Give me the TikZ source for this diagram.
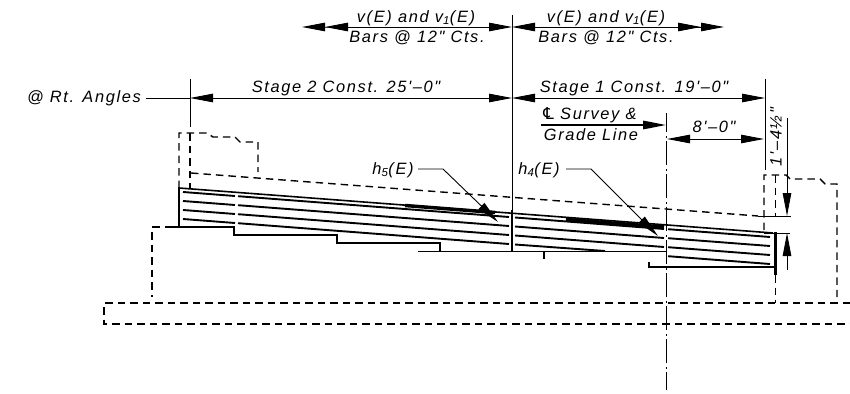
\documentclass[tikz,border=0pt]{standalone}
\usepackage{fontspec}
\newfontfamily\cadfont[LetterSpace=10]{Liberation Sans}
\newfontfamily\clfont{DejaVu Sans}
\usetikzlibrary{arrows.meta}
\tikzset{
  >={Triangle[length=23pt,width=8.5pt]},
  lab/.style={inner sep=0pt,font=\cadfont\itshape\fontsize{16.4}{19}\selectfont},
  dimline/.style={line width=0.9pt},
  barline/.style={line width=1.9pt},
  edgeline/.style={line width=1.6pt},
  hidline/.style={line width=1.4pt,dash pattern=on 7.5pt off 5pt},
  centreline/.style={line width=0.8pt,dash pattern=on 24pt off 4pt on 1.5pt off 3.5pt,dash phase=5pt}
}
\begin{document}
\begin{tikzpicture}[x=1pt,y=-1pt]
\useasboundingbox (0,0) rectangle (850,393);

\node[lab] (angles) at (84,98) {@ Rt. Angles};
\node[lab] (stagetwo) at (346,88) {Stage 2 Const. 25'–0"};
\node[lab] (stageone) at (634,88) {Stage 1 Const. 19'–0"};
\node[lab] (vleft) at (416,18) {v(E) and v\textsubscript{1}(E)};
\node[lab] (barsleft) at (417,38) {Bars @ 12" Cts.};
\node[lab] (vright) at (606,18) {v(E) and v\textsubscript{1}(E)};
\node[lab] (barsright) at (606,38) {Bars @ 12" Cts.};
\node[lab] (survey) at (590,115) {{\clfont\upshape\char"2104}\ Survey \&};
\node[lab] (grade) at (591,135) {Grade Line};
\node[lab] (eight) at (714,127) {8'–0"};
\node[lab,rotate=90] (height) at (776,137) {1'–4\textonehalf"};
\node[lab] (hfive) at (393,170) {h\textsubscript{5}(E)};
\node[lab] (hfour) at (539,170) {h\textsubscript{4}(E)};

\coordinate (top) at (512,15);
\coordinate (mid) at (512,210);
\coordinate (base) at (512,252);
\coordinate (topl) at (302,27);
\coordinate (topm) at (512,27);
\coordinate (topr) at (724,27);
\coordinate (stl) at (190,98);
\coordinate (stm) at (512,98);
\coordinate (str) at (765,98);
\coordinate (cll) at (541,125);
\coordinate (clr) at (666,125);
\coordinate (cltop) at (666.5,113);
\coordinate (clbot) at (666.5,390);
\coordinate (eil) at (667,139);
\coordinate (eir) at (764,139);

\draw[dimline] (top) -- (mid);
\draw[line width=2.2pt] (mid) -- (base);
\draw[dimline,<<-] (topl) -- (347,27) -- (489,27);
\draw[dimline,->] (347,27) -- (topm);
\draw[dimline,<-] (topm) -- (536,27);
\draw[dimline,->>] (536,27) -- (topr);
\draw[dimline] (146,98) -- (stl);
\draw[dimline,<-] (stl) -- (256,98);
\draw[dimline,->] (256,98) -- (stm);
\draw[dimline,<->] (stm) -- (str);
\draw[dimline] (190,79) -- (190,127);
\draw[dimline] (765,79) -- (765,170);
\draw[edgeline,->] (cll) -- (clr);
\draw[centreline] (cltop) -- (clbot);
\draw[dimline,<->] (eil) -- (eir);

\draw[dimline] (787,118) -- (787,150);
\draw[dimline,->] (787,150) -- (787,216);
\draw[dimline,->] (787,270) -- (787,233);
\draw[dimline] (758,216) -- (791,216);
\draw[dimline] (764,233) -- (790,233);

\draw[dimline,->] (418,169) -- (443,169) -- (498,222);
\draw[dimline,->] (566,169) -- (591,169) -- (658,236);

\draw[hidline] (179,188) -- (179,133) -- (207,133) -- (213,137) -- (235,137) -- (240,142) -- (258,142) -- (258,172);
\draw[hidline] (190,133) -- (190,188);
\draw[hidline] (191,173) -- (758,216);
\draw[hidline] (172,227) -- (152,227) -- (152,297);
\draw[hidline] (850,303) -- (104,303) -- (104,324) -- (850,324);
\draw[hidline] (764,230) -- (764,175) -- (786,175) -- (790,179) -- (820,179) -- (825,184) -- (837,184) -- (837,297);
\draw[hidline] (775.5,175) -- (775.5,216);
\draw[hidline] (775.5,275) -- (775.5,303);

\draw[edgeline] (179,227) -- (179,188) -- (773,233);
\draw[line width=2.6pt] (775.5,232) -- (775.5,275);
\draw[edgeline] (172,227) -- (234,227) -- (234,235) -- (337,235) -- (337,243) -- (440,243) -- (440,251);
\draw[edgeline] (418,251.5) -- (667,251.5);
\draw[edgeline] (544,251.5) -- (544,259);
\draw[edgeline] (649,262) -- (649,267) -- (775,267);

\foreach \y in {192,201,210} {
  \draw[barline] (183,\y) -- (235,\y+4);
  \draw[barline] (238,\y+4.2) -- (509,\y+25);
  \draw[barline] (515,\y+25.5) -- (664,\y+37);
  \draw[barline] (668,\y+37.2) -- (770,\y+45);
}
\draw[barline] (183,219) -- (235,223);
\draw[barline] (238,223.2) -- (509,244);
\draw[barline] (515,244.5) -- (605,251);
\draw[barline] (668,256.2) -- (770,264);

\draw[line width=3.5pt] (405,205.5) -- (495,212.5);
\draw[line width=3.5pt] (566,219.5) -- (664,227);
\end{tikzpicture}
\end{document}
